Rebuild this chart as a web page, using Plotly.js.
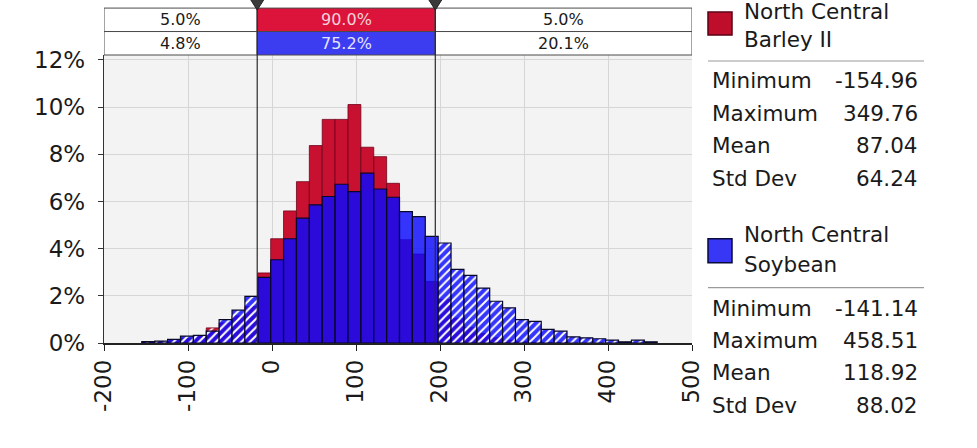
<!DOCTYPE html>
<html><head><meta charset="utf-8">
<script src="https://cdn.plot.ly/plotly-3.0.1.min.js"></script>
<style>html,body{margin:0;padding:0;background:#fff;} #chart{width:977px;height:448px;}</style>
</head><body><div id="chart"></div>
<script>
// ---------- DATA ----------
const binEdges = [-154.96,-139.62,-124.28,-108.95,-93.61,-78.27,-62.93,-47.59,-32.26,-16.92,
  -1.58,13.76,29.10,44.44,59.77,75.11,90.45,105.79,121.13,136.46,
  151.80,167.14,182.48,197.82,213.15,228.49,243.83,259.17,274.51,289.84,
  305.18,320.52,335.86,351.20,366.53,381.87,397.21,412.55,427.89,443.22,458.56];
const barleyPct = [0.03,0.05,0.10,0.20,0.30,0.64,0.85,1.15,1.55,
  2.97,4.42,5.60,6.84,8.37,9.48,9.48,10.11,8.30,7.90,6.77,4.38,3.77,2.61,
  1.85,1.05,0.65,0.40,0.22,0.12,0.06,0.03,0.02,0.01,0,0,0,0,0,0,0];
const soybeanPct = [0.06,0.08,0.15,0.29,0.32,0.50,0.99,1.39,1.98,
  2.78,3.53,4.42,5.29,5.86,6.21,6.73,6.42,7.20,6.53,6.18,5.57,5.36,4.52,
  4.24,3.12,2.87,2.33,1.77,1.49,0.99,0.92,0.58,0.50,0.26,0.22,0.18,0.12,0.05,0.12,0.05];
const seriesNameLines = [['North Central','Barley II'],['North Central','Soybean']];
const statLabels = ['Minimum','Maximum','Mean','Std Dev'];
const barleyStats = ['-154.96','349.76','87.04','64.24'];
const soybeanStats = ['-141.14','458.51','118.92','88.02'];
const delimiters = [-17.6, 194.4];
const barleyBands = ['5.0%','90.0%','5.0%'];
const soybeanBands = ['4.8%','75.2%','20.1%'];
const xTicks = [-200,-100,0,100,200,300,400,500];
const yTicks = [0,2,4,6,8,10,12];

// ---------- STYLE / LAYOUT ----------
const FONT = 'DejaVu Sans, Verdana, sans-serif';
const W = 977, H = 448, ML = 104, MR = 285, MT = 55, MB = 104.5;
const plotW = W - ML - MR, plotH = H - MT - MB;
const px2x = px => (px - ML) / plotW;
const py2y = py => (H - MB - py) / plotH;
const xRange = [-200, 500];
const RED = 'rgb(200,16,48)';
const BLUE = 'rgba(10,10,255,0.82)';

function subset(vals, hatched) {
  const x = [], w = [], y = [];
  for (let i = 0; i < vals.length; i++) {
    const c = (binEdges[i] + binEdges[i + 1]) / 2;
    const out = c < delimiters[0] || c > delimiters[1];
    if (out === hatched && vals[i] > 0) {
      x.push(c); w.push(binEdges[i + 1] - binEdges[i]); y.push(vals[i]);
    }
  }
  return {x, width: w, y};
}
function barTrace(vals, hatched, color, lineColor, lineW) {
  const s = subset(vals, hatched);
  const marker = {color: color, line: {color: lineColor, width: lineW}};
  if (hatched) marker.pattern = {shape: '/', fillmode: 'overlay', bgcolor: color, fgcolor: '#ffffff', fgopacity: 1, size: 6, solidity: 0.32};
  return {type: 'bar', x: s.x, y: s.y, width: s.width, marker: marker, hoverinfo: 'skip', showlegend: false};
}
const traces = [
  barTrace(barleyPct, false, RED, 'rgb(110,0,25)', 0.8),
  barTrace(barleyPct, true, RED, 'rgb(110,0,25)', 0.8),
  barTrace(soybeanPct, false, BLUE, 'rgb(8,8,40)', 1.2),
  barTrace(soybeanPct, true, BLUE, 'rgb(8,8,40)', 1.2)
];

const shapes = [], annotations = [];
const bounds = [xRange[0], delimiters[0], delimiters[1], xRange[1]];
const rowPy = [[8, 31.5], [31.5, 55]];
const midFill = ['rgb(220,20,60)', 'rgb(60,60,240)'];
const midText = ['#f6d2da', '#e4e4ff'];
[barleyBands, soybeanBands].forEach((bands, r) => {
  for (let b = 0; b < 3; b++) {
    shapes.push({type: 'rect', xref: 'x', yref: 'paper', x0: bounds[b], x1: bounds[b + 1],
      y0: py2y(rowPy[r][1]), y1: py2y(rowPy[r][0]), fillcolor: b === 1 ? midFill[r] : '#ffffff',
      line: {color: '#4a4a4a', width: 1}, layer: 'above'});
    annotations.push({xref: 'x', yref: 'paper', x: (bounds[b] + bounds[b + 1]) / 2,
      y: py2y((rowPy[r][0] + rowPy[r][1]) / 2), text: bands[b], showarrow: false,
      xanchor: 'center', yanchor: 'middle',
      font: {family: FONT, size: 16, color: b === 1 ? midText[r] : '#1a1a1a'}});
  }
});
delimiters.forEach(d => {
  shapes.push({type: 'line', xref: 'x', yref: 'paper', x0: d, x1: d, y0: 0, y1: py2y(8),
    line: {color: '#2a2a2a', width: 1.2}, layer: 'above'});
  shapes.push({type: 'path', xref: 'x', yref: 'paper', xsizemode: 'pixel', ysizemode: 'pixel',
    xanchor: d, yanchor: py2y(10), path: 'M-7,11 L7,11 L0,0 Z',
    fillcolor: '#3a3a3a', line: {color: '#222', width: 1}, layer: 'above'});
});

// Right-hand stats panel
const panel = [
  {names: seriesNameLines[0], stats: barleyStats, color: 'rgb(190,14,44)', border: 'rgb(90,0,20)', sw: [12, 35], nameY: [11.5, 39], sep: 61, rows: [81, 113.5, 146, 178.5]},
  {names: seriesNameLines[1], stats: soybeanStats, color: 'rgb(55,55,245)', border: 'rgb(10,10,60)', sw: [239, 263], nameY: [235, 265], sep: 288, rows: [309, 341, 373.5, 406]}
];
panel.forEach(p => {
  shapes.push({type: 'rect', xref: 'paper', yref: 'paper', x0: px2x(708), x1: px2x(732),
    y0: py2y(p.sw[1]), y1: py2y(p.sw[0]), fillcolor: p.color, line: {color: p.border, width: 1.5}});
  shapes.push({type: 'line', xref: 'paper', yref: 'paper', x0: px2x(708), x1: px2x(924),
    y0: py2y(p.sep), y1: py2y(p.sep), line: {color: '#9a9a9a', width: 1.2}});
  p.names.forEach((n, i) => annotations.push({xref: 'paper', yref: 'paper', x: px2x(742), y: py2y(p.nameY[i]),
    text: n, showarrow: false, xanchor: 'left', yanchor: 'middle', font: {family: FONT, size: 21.5, color: '#1a1a1a'}}));
  statLabels.forEach((l, i) => {
    annotations.push({xref: 'paper', yref: 'paper', x: px2x(710), y: py2y(p.rows[i]), text: l, showarrow: false,
      xanchor: 'left', yanchor: 'middle', font: {family: FONT, size: 21.5, color: '#1a1a1a'}});
    annotations.push({xref: 'paper', yref: 'paper', x: px2x(920), y: py2y(p.rows[i]), text: p.stats[i], showarrow: false,
      xanchor: 'right', yanchor: 'middle', font: {family: FONT, size: 21.5, color: '#1a1a1a'}});
  });
});

const layout = {
  width: W, height: H,
  margin: {l: ML, r: MR, t: MT, b: MB, pad: 0},
  paper_bgcolor: '#ffffff', plot_bgcolor: '#f3f3f3',
  barmode: 'overlay', showlegend: false,
  font: {family: FONT, color: '#1a1a1a'},
  xaxis: {range: xRange, tickvals: xTicks, ticktext: xTicks.map(String), tickangle: -90,
    ticks: 'outside', ticklen: 6, tickcolor: '#222', showline: true, linecolor: '#222', linewidth: 1.5,
    showgrid: true, gridcolor: '#d6d6d6', gridwidth: 1, zeroline: false,
    tickfont: {family: FONT, size: 23, color: '#1a1a1a'}, fixedrange: true},
  yaxis: {range: [0, 12.21], tickvals: yTicks, ticktext: yTicks.map(v => v + '%'),
    ticks: 'outside', ticklen: 5, tickcolor: '#333', showline: true, linecolor: '#333', linewidth: 1.2,
    showgrid: true, gridcolor: '#d6d6d6', gridwidth: 1, zeroline: false, ticklabelstandoff: 8,
    tickfont: {family: FONT, size: 23, color: '#1a1a1a'}, fixedrange: true},
  shapes: shapes, annotations: annotations
};
Plotly.newPlot('chart', traces, layout, {displayModeBar: false, staticPlot: true});
</script></body></html>
